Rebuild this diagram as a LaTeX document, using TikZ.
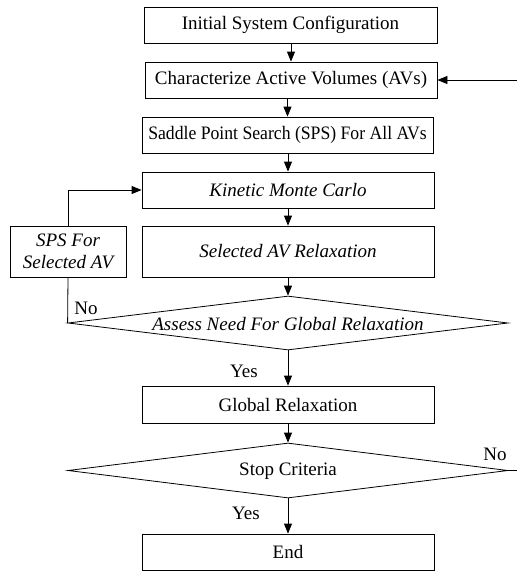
\documentclass[tikz,border=0pt]{standalone}
\usepackage{fontspec}
\setmainfont{Liberation Serif}
\usetikzlibrary{arrows.meta,shapes.geometric}
\begin{document}
\begin{tikzpicture}[x=1pt,y=-1pt,
  every node/.style={font=\fontsize{19}{22}\selectfont},
  box/.style={draw,line width=0.8pt,rectangle,inner sep=0pt,minimum width=292pt,minimum height=36pt},
  dia/.style={draw,line width=0.8pt,diamond,inner sep=0pt,minimum width=440pt,minimum height=54pt},
  conn/.style={line width=0.8pt},
  arr/.style={line width=0.8pt,-{Triangle[length=10pt,width=8pt]}}]
\useasboundingbox (0,0) rectangle (517,571);
\node[box,minimum width=293pt] (init) at (290.5,25) {Initial System Configuration};
\node[box] (char) at (291,80) {Characterize Active Volumes (AVs)};
\node[box,minimum width=291pt] (sps) at (287.5,135) {\scalebox{0.93}[1]{Saddle Point Search (SPS) For All AVs}};
\node[box] (kmc) at (288,190) {\itshape Kinetic Monte Carlo};
\node[box,minimum height=51pt] (sel) at (288,251.5) {\itshape Selected AV Relaxation};
\node[box,minimum width=116pt,minimum height=51pt,align=center] (spssel) at (68,251.5) {\itshape SPS For\\\itshape Selected AV};
\node[dia] (assess) at (288,323) {};
\node (assesst) at (288,324) {\itshape Assess Need For Global Relaxation};
\node[box,minimum height=37pt] (glob) at (288,404.5) {Global Relaxation};
\node[dia,minimum height=55pt] (stop) at (288,470.5) {};
\node (stopt) at (288,471) {Stop Criteria};
\node[box] (end) at (288,552) {End};
\coordinate (outA) at (517,470.5);
\coordinate (outB) at (517,80);
\node (no1) at (86,308) {No};
\node (yes1) at (244,371) {Yes};
\node (no2) at (495,454) {No};
\node (yes2) at (246,513) {Yes};
\draw[arr] (init.south -| char.north) -- (char.north);
\draw[arr] (char.south -| sps.north) -- (sps.north);
\draw[arr] (sps.south -| kmc.north) -- (kmc.north);
\draw[arr] (kmc.south) -- (sel.north);
\draw[arr] (sel.south) -- (assess.north);
\draw[arr] (assess.south) -- (glob.north);
\draw[arr] (glob.south) -- (stop.north);
\draw[arr] (stop.south) -- (end.north);
\draw[conn] (assess.west) -- (spssel.south);
\draw[arr] (spssel.north) |- (kmc.west);
\draw[conn] (stop.east) -- (outA);
\draw[arr] (outB) -- (char.east);
\end{tikzpicture}
\end{document}
